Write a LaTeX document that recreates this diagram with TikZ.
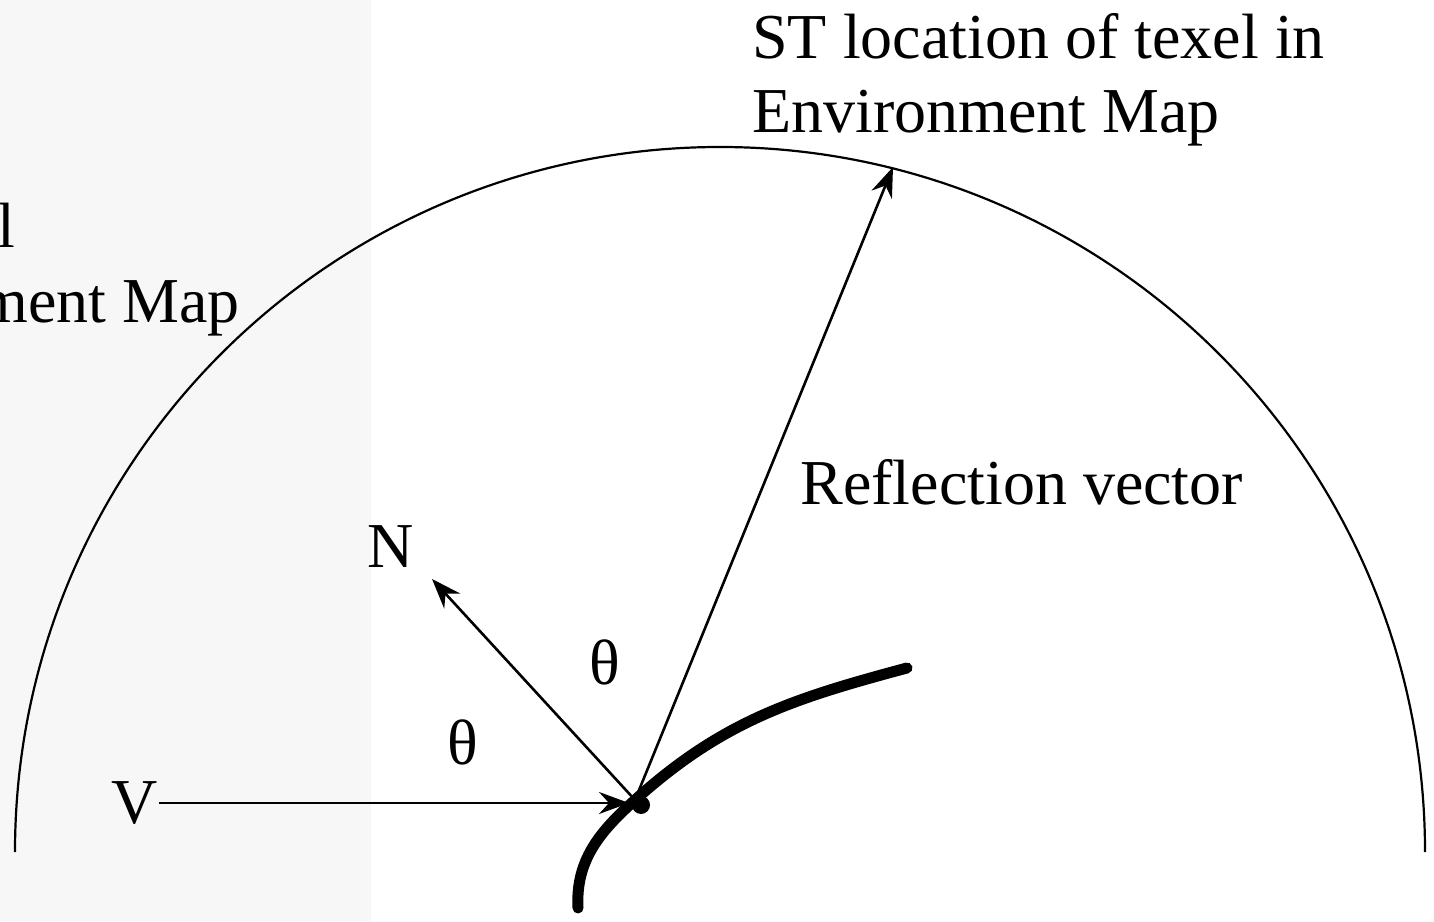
\documentclass[tikz,border=0pt]{standalone}
\usepackage{fontspec}
\setmainfont{Liberation Serif}
\usetikzlibrary{arrows.meta}

\begin{document}
\begin{tikzpicture}[x=0.5pt, y=0.5pt, every node/.style={font=\fontsize{32}{37}\selectfont, inner sep=0pt}, >={Stealth[length=15pt, width=11pt, inset=5pt]}, ray/.style={line width=1.3pt, ->}]
	\useasboundingbox (0,0) rectangle (1434,921);
	\fill[black!3] (0,0) rectangle (371,921);
	\draw[line width=1.1pt] (15,69) arc[start angle=180, end angle=0, radius=705];
	\node[anchor=base east] (leftl) at (16,673) {l};
	\node[anchor=base east] (leftmap) at (240,598) {ment Map};
	\node[anchor=base west, align=left] (stloc) at (752,788) {ST location of texel in\\Environment Map};
	\node[anchor=base west] (refl) at (800,416) {Reflection vector};
	\node (nlab) at (391,374) {N};
	\node (vlab) at (135,118) {V};
	\node (thetav) at (463,179) {θ};
	\node (thetar) at (605,259) {θ};
	\coordinate (hit) at (635,121);
	\coordinate (ntip) at (432,342);
	\coordinate (rtip) at (893,754);
	\coordinate (vtip) at (629,118);
	\draw[ray] (vlab.east) -- (vtip);
	\draw[ray] (hit) -- (ntip);
	\draw[ray] (hit) -- (rtip);
	\draw[line width=5.5pt, line cap=round] (578,13) to[out=93, in=222] (hit) to[out=42, in=195] (907,253);
	\fill (641,116) circle (4.5pt);
\end{tikzpicture}
\end{document}
